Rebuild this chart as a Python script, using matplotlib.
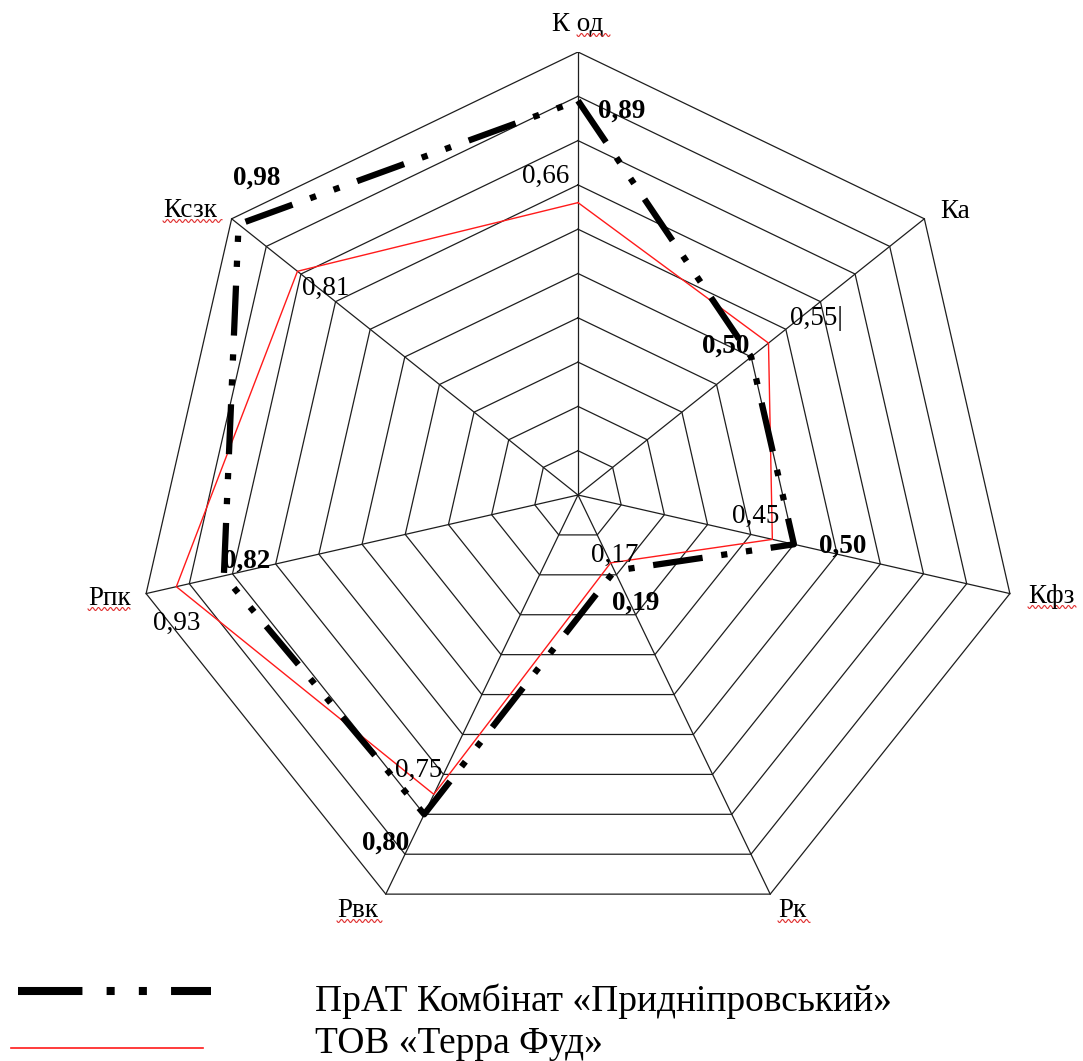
import numpy as np
import matplotlib
matplotlib.use("Agg")
import matplotlib.pyplot as plt
from matplotlib.lines import Line2D

# --- data -------------------------------------------------------------
axis_names = ["К од", "Ка", "Кфз", "Рк", "Рвк", "Рпк", "Ксзк"]
pridniprovskyi = [0.89, 0.50, 0.50, 0.19, 0.80, 0.82, 0.98]
terra_food = [0.66, 0.55, 0.45, 0.17, 0.75, 0.93, 0.81]
grid_levels = [0.1, 0.2, 0.3, 0.4, 0.5, 0.6, 0.7, 0.8, 0.9, 1.0]
series_names = ["ПрАТ Комбінат «Придніпровський»", "ТОВ «Терра Фуд»"]

# --- layout (pixels) --------------------------------------------------
W, H = 1083, 1061
cx, cy, R = 578, 495, 443
FONT = "Liberation Serif"

# text anchors: (left x, baseline y)
axis_label_pos = [(552, 31), (940, 218), (1028, 603), (778, 917),
                  (337, 917), (88, 605), (163, 217)]
# spell-check underline spans (x0, x1) for each axis label, None = not marked
underline_spans = [(577, 610), None, (1028, 1076), (778, 810),
                   (337, 382), (88, 130), (163, 222)]
bold_label_pos = [(598, 118), (702, 353), (819, 553), (612, 610),
                  (362, 850), (223, 568), (233, 185)]
thin_label_pos = [(522, 183), (790, 325), (732, 523), (591, 562),
                  (395, 777), (153, 630), (302, 295)]

fig = plt.figure(figsize=(W / 100, H / 100), dpi=100)
fig.patch.set_facecolor("white")

# radar axes in unit coordinates (outer ring = 1.0)
ax = fig.add_axes([(cx - R) / W, (H - cy - R) / H, 2 * R / W, 2 * R / H])
ax.set_xlim(-1, 1)
ax.set_ylim(-1, 1)
ax.axis("off")

n = len(axis_names)
theta = 2 * np.pi * np.arange(n) / n
sx, sy = np.sin(theta), np.cos(theta)

grid_color = "#1e1e1e"
for lvl in grid_levels:
    ax.plot(np.append(lvl * sx, lvl * sx[0]), np.append(lvl * sy, lvl * sy[0]),
            color=grid_color, lw=0.9, zorder=1)
for k in range(n):
    ax.plot([0, sx[k]], [0, sy[k]], color=grid_color, lw=0.9, zorder=1)

tv = np.array(terra_food)
ax.plot(np.append(tv * sx, tv[0] * sx[0]), np.append(tv * sy, tv[0] * sy[0]),
        color="#ff1a1a", lw=1.0, zorder=3)

pv = np.array(pridniprovskyi)
bl_lw = 4.5
ax.plot(np.append(pv * sx, pv[0] * sx[0]), np.append(pv * sy, pv[0] * sy[0]),
        color="black", lw=bl_lw, dashes=(8, 3, 1, 3, 1, 3),
        dash_capstyle="butt", solid_capstyle="butt", zorder=4)

# overlay axes in pixel coordinates for text and legend
lab = fig.add_axes([0, 0, 1, 1])
lab.set_xlim(0, W)
lab.set_ylim(H, 0)
lab.axis("off")
lab.patch.set_visible(False)

def fmt(v):
    return f"{v:.2f}".replace(".", ",")

for name, (x, y), span in zip(axis_names, axis_label_pos, underline_spans):
    lab.text(x, y, name, fontsize=19.5, family=FONT, ha="left", va="baseline")
    if span is not None:
        xs = np.linspace(span[0], span[1], 80)
        ys = y + 4 + 1.5 * np.sin(2 * np.pi * (xs - span[0]) / 6.0)
        lab.plot(xs, ys, color="#e03030", lw=0.8)

for v, (x, y) in zip(pridniprovskyi, bold_label_pos):
    lab.text(x, y, fmt(v), fontsize=19.5, family=FONT, fontweight="bold",
             ha="left", va="baseline")

for i, (v, (x, y)) in enumerate(zip(terra_food, thin_label_pos)):
    s = fmt(v) + ("|" if i == 1 else "")
    lab.text(x, y, s, fontsize=19.5, family=FONT, ha="left", va="baseline")

# legend
lab.add_line(Line2D([18, 211], [991, 991], color="black", lw=5.8,
                    dashes=(8, 3, 1, 3, 1, 3), dash_capstyle="butt"))
lab.add_line(Line2D([11, 203], [1048, 1048], color="#ff1a1a", lw=1.2))
lab.text(315, 1011, series_names[0], fontsize=27, family=FONT,
         ha="left", va="baseline")
lab.text(315, 1053, series_names[1], fontsize=27, family=FONT,
         ha="left", va="baseline")

fig.savefig("out.png", dpi=100, facecolor="white")
